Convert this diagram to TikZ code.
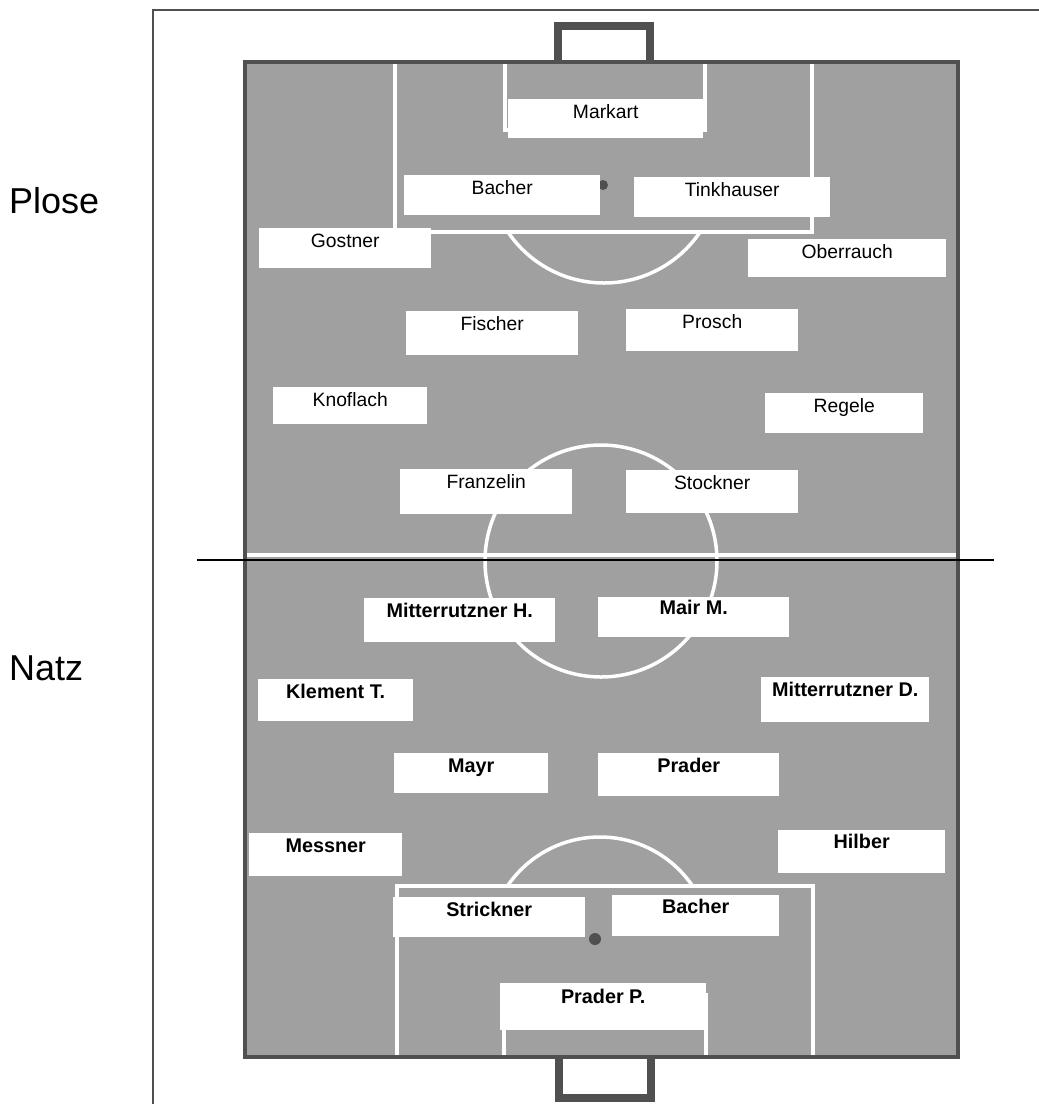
\documentclass[tikz,border=0pt]{standalone}
\usepackage{fontspec}
\setmainfont{Liberation Sans}
\definecolor{turf}{RGB}{160,160,160}
\definecolor{chalkgray}{RGB}{80,80,80}
\begin{document}
\begin{tikzpicture}[x=1pt,y=-1pt,
  pitchline/.style={white, line width=3.5pt},
  goalframe/.style={chalkgray, line width=8pt, line join=miter},
  plosebox/.style={fill=white, inner sep=0pt, anchor=north west, text height=19.5pt,
    font=\fontsize{19.3}{23}\selectfont},
  natzbox/.style={plosebox, font=\fontsize{19.8}{24}\selectfont\bfseries},
  teamname/.style={inner sep=0pt, anchor=base west, font=\fontsize{36}{43}\selectfont}]
\useasboundingbox (0,0) rectangle (1039,1104);
% frame
\draw[chalkgray, line width=1.5pt] (153,1104) -- (153,10) -- (1039,10);
% pitch
\fill[turf] (245,62) rectangle (958,1057);
\draw[pitchline] (247,555) -- (956,555);
\draw[pitchline] (601,561) circle (116pt);
% top area
\draw[pitchline] (395,64) -- (395,232) -- (812,232) -- (812,64);
\draw[pitchline] (505,64) -- (505,130) -- (705,130) -- (705,64);
\begin{scope}
\clip (250,232) rectangle (950,400);
\draw[pitchline] (604,167) circle (116pt);
\end{scope}
\fill[chalkgray] (603,185) circle (5pt);
% bottom area
\draw[pitchline] (397,1055) -- (397,886) -- (813,886) -- (813,1055);
\draw[pitchline] (504,1055) -- (504,995) -- (706,995) -- (706,1055);
\begin{scope}
\clip (250,700) rectangle (950,886);
\draw[pitchline] (600,949) circle (112pt);
\end{scope}
\fill[chalkgray] (595,939) circle (6pt);
% border and goals
\draw[chalkgray, line width=4pt] (245,62) rectangle (958,1057);
\draw[goalframe] (558,62) -- (558,26) -- (650,26) -- (650,62);
\draw[goalframe] (559,1057) -- (559,1098) -- (651,1098) -- (651,1057);
% Plose
\node[plosebox, minimum width=195pt, text depth=19.5pt] (markart) at (508,99) {Markart};
\node[plosebox, minimum width=196pt, text depth=20.5pt] (bacherP) at (404,175) {Bacher};
\node[plosebox, minimum width=196pt, text depth=20.5pt] (tinkhauser) at (634,177) {Tinkhauser};
\node[plosebox, minimum width=172pt, text depth=20.5pt] (gostner) at (259,228) {Gostner};
\node[plosebox, minimum width=198pt, text depth=18.5pt] (oberrauch) at (748,239) {Oberrauch};
\node[plosebox, minimum width=172pt, text depth=24.5pt] (fischer) at (406,311) {Fischer};
\node[plosebox, minimum width=172pt, text depth=22.5pt] (prosch) at (626,309) {Prosch};
\node[plosebox, minimum width=154pt, text depth=17.5pt] (knoflach) at (273,387) {Knoflach};
\node[plosebox, minimum width=158pt, text depth=20.5pt] (regele) at (765,393) {Regele};
\node[plosebox, minimum width=172pt, text depth=25.5pt] (franzelin) at (400,469) {Franzelin};
\node[plosebox, minimum width=172pt, text depth=23.5pt] (stockner) at (626,470) {Stockner};
% Natz
\node[natzbox, minimum width=191pt, text depth=24.5pt] (mitterH) at (364,598) {Mitterrutzner H.};
\node[natzbox, minimum width=191pt, text depth=22.5pt, text height=17.5pt] (mairM) at (598,597) {Mair M.};
\node[natzbox, minimum width=155pt, text depth=22.5pt] (klementT) at (258,679) {Klement T.};
\node[natzbox, minimum width=168pt, text depth=25.5pt] (mitterD) at (761,677) {Mitterrutzner D.};
\node[natzbox, minimum width=154pt, text depth=20.5pt] (mayr) at (394,753) {Mayr};
\node[natzbox, minimum width=181pt, text depth=23.5pt] (prader) at (598,753) {Prader};
\node[natzbox, minimum width=153pt, text depth=23.5pt] (messner) at (249,833) {Messner};
\node[natzbox, minimum width=167pt, text depth=24.5pt, text height=18.5pt] (hilber) at (778,830) {Hilber};
\node[natzbox, minimum width=192pt, text depth=20.5pt] (strickner) at (393,897) {Strickner};
\node[natzbox, minimum width=167pt, text depth=22.5pt, text height=18.5pt] (bacherN) at (612,895) {Bacher};
\node[natzbox, minimum width=206pt, text depth=27pt, text height=20pt] (praderP) at (500,983) {Prader P.};
% halfway
\draw[black, line width=1.8pt] (197,560) -- (994,560);
% teams
\node[teamname] (plose) at (9,213) {Plose};
\node[teamname] (natz) at (9,680) {Natz};
\end{tikzpicture}
\end{document}
